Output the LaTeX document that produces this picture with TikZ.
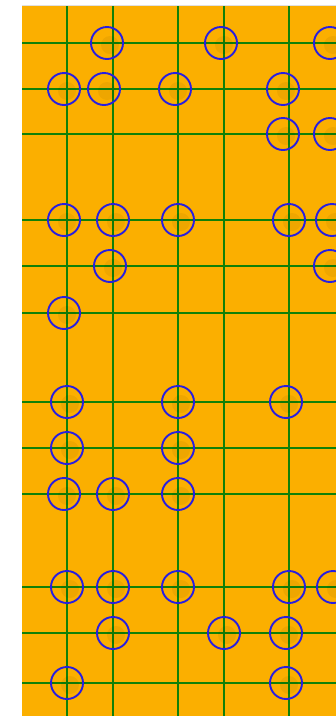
\documentclass[tikz,border=0pt]{standalone}
\begin{document}
\begin{tikzpicture}[x=1pt,y=-1pt,
  gridline/.style={draw=gridgreen,line width=2.9pt},
  ring/.style={draw=ringblue,line width=1.9pt},
  blob/.style={fill=black,opacity=0.05}]
\definecolor{bgorange}{RGB}{251,175,0}
\definecolor{gridgreen}{RGB}{16,128,8}
\definecolor{ringblue}{RGB}{40,30,225}
\useasboundingbox (0,0) rectangle (336,716);
\fill[white] (0,0) rectangle (336,716);
\fill[black!12] (22,4.5) rectangle (336,6);
\fill[bgorange] (22,6) rectangle (336,716);
% grid
\foreach \x in {67,113,178,224,289} \draw[gridline] (\x,6) -- (\x,716);
\foreach \y in {43,89,134,220,266,313,402,448,494,587,633,683} \draw[gridline] (22,\y) -- (336,\y);
% rings
\foreach \p in {(107,43),(221,43),(330,43),
  (64,89),(104,89),(175,89),(283,89),
  (283,134),(330,134),
  (64,220),(113,220),(178,220),(289,220),(332,220),
  (110,266),(330,266),
  (64,313),
  (67,402),(178,402),(286,402),
  (67,448),(178,448),
  (64,494),(113,494),(178,494),
  (67,587),(113,587),(178,587),(289,587),(333,587),
  (113,633),(224,633),(286,633),
  (67,683),(286,683)}
{
  \fill[blob] \p ++(3,2) circle (9);
  \draw[ring] \p circle (16);
}
\end{tikzpicture}
\end{document}
